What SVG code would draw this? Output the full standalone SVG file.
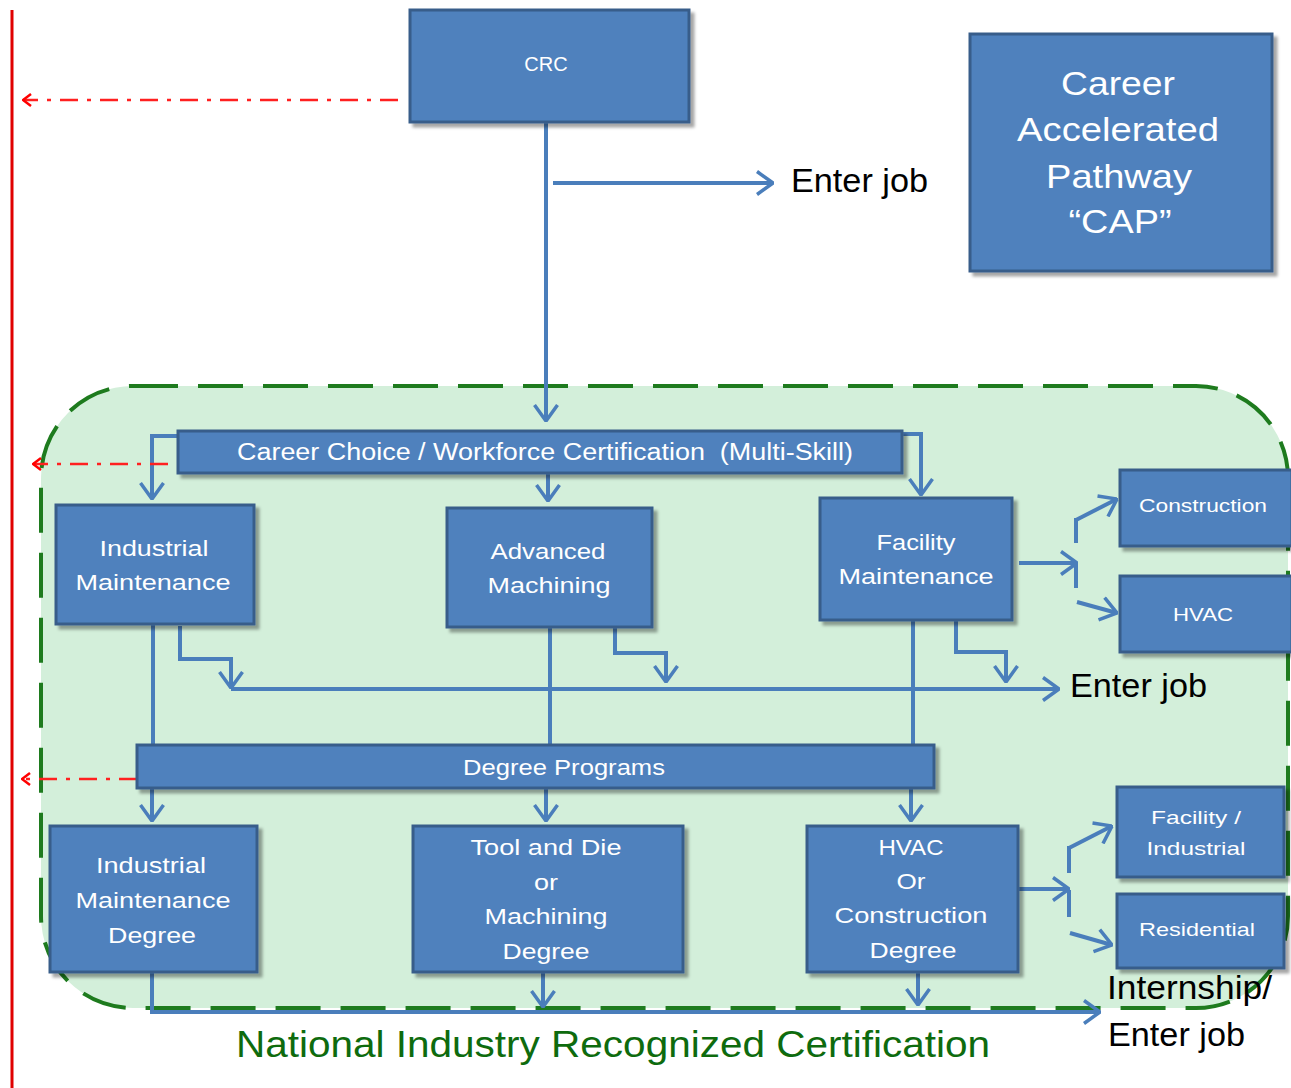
<svg xmlns="http://www.w3.org/2000/svg" width="1291" height="1088" viewBox="0 0 1291 1088">
<defs>
<style>
.node{fill:#4F81BD;stroke:#385D8A;stroke-width:3;filter:url(#sh)}
.t{font-family:"Liberation Sans",Arial,sans-serif;fill:#FFFFFF;text-anchor:middle;dominant-baseline:central}
.c{fill:none;stroke:#4A7EBB;stroke-width:4;stroke-linejoin:miter}
.ca{fill:none;stroke:#4A7EBB;stroke-width:4;marker-end:url(#ah)}
.r{fill:none;stroke:#FF2020;stroke-width:2.5;stroke-dasharray:18 9 4 9;marker-end:url(#rh)}
.lbl{font-family:"Liberation Sans",Arial,sans-serif;fill:#000000;text-anchor:start;dominant-baseline:central}
</style>
<filter id="sh" x="-10%" y="-10%" width="130%" height="140%">
<feDropShadow dx="4" dy="4" stdDeviation="1.5" flood-color="#000000" flood-opacity="0.35"/>
</filter>
<marker id="ah" viewBox="0 0 18 26" refX="17" refY="13" markerWidth="18" markerHeight="26" markerUnits="userSpaceOnUse" orient="auto">
<path d="M1,1.5 L17,13 L1,24.5" fill="none" stroke="#4A7EBB" stroke-width="3.5"/>
</marker>
<marker id="rh" viewBox="0 0 10 14" refX="9" refY="7" markerWidth="10" markerHeight="14" markerUnits="userSpaceOnUse" orient="auto">
<path d="M1,1 L9,7 L1,13" fill="none" stroke="#FF0000" stroke-width="2.5"/>
</marker>
</defs>
<rect width="1291" height="1088" fill="#FFFFFF"/>

<g id="red-boundary">
<line x1="12" y1="10" x2="12" y2="1088" stroke="#E00000" stroke-width="3"/>
</g>

<g id="container">
<rect x="41" y="386" width="1247" height="622" rx="92" ry="92" fill="#D3EFDA" stroke="#1E7B1E" stroke-width="4" stroke-dasharray="45 20"/>
</g>

<g id="connectors">
<path class="ca" d="M546,122 V421"/>
<path class="ca" d="M553,183 H773"/>
<path class="ca" d="M178,436 H152 V499"/>
<path class="ca" d="M548,473 V501"/>
<path class="ca" d="M902,434 H921 V495"/>
<path class="c" d="M153,624 V745"/>
<path class="ca" d="M180,626 V659 H231 V688"/>
<path class="c" d="M550,627 V745"/>
<path class="ca" d="M615,627 V653 H666 V682"/>
<path class="c" d="M913,620 V745"/>
<path class="ca" d="M956,620 V652 H1006 V682"/>
<path class="ca" d="M231,689 H1059"/>
<path class="ca" d="M1019,563 H1077"/>
<path class="c" d="M1076,543 V518"/>
<path class="c" d="M1076,563 V588"/>
<path class="ca" d="M1076,520 L1117,499"/>
<path class="ca" d="M1077,602 L1117,613"/>
<path class="ca" d="M152,788 V821"/>
<path class="ca" d="M546,788 V821"/>
<path class="ca" d="M911,788 V821"/>
<path class="ca" d="M1018,889 H1069"/>
<path class="c" d="M1069,873 V846"/>
<path class="c" d="M1069,890 V917"/>
<path class="ca" d="M1069,848 L1112,826"/>
<path class="ca" d="M1070,933 L1112,945"/>
<path class="ca" d="M152,972 V1012 H1100"/>
<path class="ca" d="M543,972 V1007"/>
<path class="ca" d="M918,972 V1005"/>
<path class="r" d="M398,100 H23"/>
<path class="r" d="M168,464 H33"/>
<path class="r" d="M137,779 H22"/>
</g>

<g id="crc">
<rect class="node" x="410" y="10" width="279" height="112"/>
<text class="t" x="546" y="64" font-size="20">CRC</text>
</g>

<g id="cap">
<rect class="node" x="970" y="34" width="302" height="237"/>
<text class="t" x="1118" y="83" font-size="34" textLength="114" lengthAdjust="spacingAndGlyphs">Career</text>
<text class="t" x="1118" y="129" font-size="34" textLength="202" lengthAdjust="spacingAndGlyphs">Accelerated</text>
<text class="t" x="1119" y="176" font-size="34" textLength="146" lengthAdjust="spacingAndGlyphs">Pathway</text>
<text class="t" x="1120" y="221" font-size="34" textLength="103" lengthAdjust="spacingAndGlyphs">“CAP”</text>
</g>

<g id="career-choice">
<rect class="node" x="178" y="431" width="724" height="42"/>
<text class="t" x="545" y="452" font-size="23" textLength="616" lengthAdjust="spacingAndGlyphs" xml:space="preserve">Career Choice / Workforce Certification  (Multi-Skill)</text>
</g>

<g id="industrial-maintenance">
<rect class="node" x="56" y="505" width="198" height="119"/>
<text class="t" x="154" y="548" font-size="22" textLength="109" lengthAdjust="spacingAndGlyphs">Industrial</text>
<text class="t" x="153" y="582" font-size="22" textLength="155" lengthAdjust="spacingAndGlyphs">Maintenance</text>
</g>

<g id="advanced-machining">
<rect class="node" x="447" y="508" width="205" height="119"/>
<text class="t" x="548" y="551" font-size="22" textLength="115" lengthAdjust="spacingAndGlyphs">Advanced</text>
<text class="t" x="549" y="585" font-size="22" textLength="123" lengthAdjust="spacingAndGlyphs">Machining</text>
</g>

<g id="facility-maintenance">
<rect class="node" x="820" y="498" width="192" height="122"/>
<text class="t" x="916" y="542" font-size="22" textLength="79" lengthAdjust="spacingAndGlyphs">Facility</text>
<text class="t" x="916" y="576" font-size="22" textLength="155" lengthAdjust="spacingAndGlyphs">Maintenance</text>
</g>

<g id="construction">
<rect class="node" x="1120" y="470" width="172" height="76"/>
<text class="t" x="1203" y="505" font-size="19" textLength="128" lengthAdjust="spacingAndGlyphs">Construction</text>
</g>

<g id="hvac">
<rect class="node" x="1120" y="576" width="172" height="76"/>
<text class="t" x="1203" y="614" font-size="19" textLength="60" lengthAdjust="spacingAndGlyphs">HVAC</text>
</g>

<g id="degree-programs">
<rect class="node" x="137" y="745" width="797" height="43"/>
<text class="t" x="564" y="767" font-size="22" textLength="202" lengthAdjust="spacingAndGlyphs">Degree Programs</text>
</g>

<g id="im-degree">
<rect class="node" x="50" y="826" width="207" height="146"/>
<text class="t" x="151" y="865" font-size="22" textLength="110" lengthAdjust="spacingAndGlyphs">Industrial</text>
<text class="t" x="153" y="900" font-size="22" textLength="155" lengthAdjust="spacingAndGlyphs">Maintenance</text>
<text class="t" x="152" y="935" font-size="22" textLength="88" lengthAdjust="spacingAndGlyphs">Degree</text>
</g>

<g id="tool-die-degree">
<rect class="node" x="413" y="826" width="270" height="146"/>
<text class="t" x="546" y="847" font-size="22" textLength="151" lengthAdjust="spacingAndGlyphs">Tool and Die</text>
<text class="t" x="546" y="882" font-size="22" textLength="24" lengthAdjust="spacingAndGlyphs">or</text>
<text class="t" x="546" y="916" font-size="22" textLength="123" lengthAdjust="spacingAndGlyphs">Machining</text>
<text class="t" x="546" y="951" font-size="22" textLength="87" lengthAdjust="spacingAndGlyphs">Degree</text>
</g>

<g id="hvac-construction-degree">
<rect class="node" x="807" y="826" width="211" height="146"/>
<text class="t" x="911" y="847" font-size="22" textLength="65" lengthAdjust="spacingAndGlyphs">HVAC</text>
<text class="t" x="911" y="881" font-size="22" textLength="29" lengthAdjust="spacingAndGlyphs">Or</text>
<text class="t" x="911" y="915" font-size="22" textLength="153" lengthAdjust="spacingAndGlyphs">Construction</text>
<text class="t" x="913" y="950" font-size="22" textLength="87" lengthAdjust="spacingAndGlyphs">Degree</text>
</g>

<g id="facility-industrial">
<rect class="node" x="1117" y="787" width="167" height="90"/>
<text class="t" x="1196" y="817" font-size="19" textLength="90" lengthAdjust="spacingAndGlyphs">Facility /</text>
<text class="t" x="1196" y="848" font-size="19" textLength="99" lengthAdjust="spacingAndGlyphs">Industrial</text>
</g>

<g id="residential">
<rect class="node" x="1117" y="894" width="167" height="74"/>
<text class="t" x="1197" y="929" font-size="19" textLength="116" lengthAdjust="spacingAndGlyphs">Residential</text>
</g>

<g id="labels">
<text class="lbl" x="791" y="180" font-size="34" textLength="137" lengthAdjust="spacingAndGlyphs">Enter job</text>
<text class="lbl" x="1070" y="685" font-size="34" textLength="137" lengthAdjust="spacingAndGlyphs">Enter job</text>
<text class="lbl" x="1107" y="987" font-size="34" textLength="165" lengthAdjust="spacingAndGlyphs">Internship/</text>
<text class="lbl" x="1108" y="1034" font-size="34" textLength="137" lengthAdjust="spacingAndGlyphs">Enter job</text>
<text class="lbl" x="236" y="1044" font-size="37" style="fill:#0E6B0E" textLength="754" lengthAdjust="spacingAndGlyphs">National Industry Recognized Certification</text>
</g>
</svg>
